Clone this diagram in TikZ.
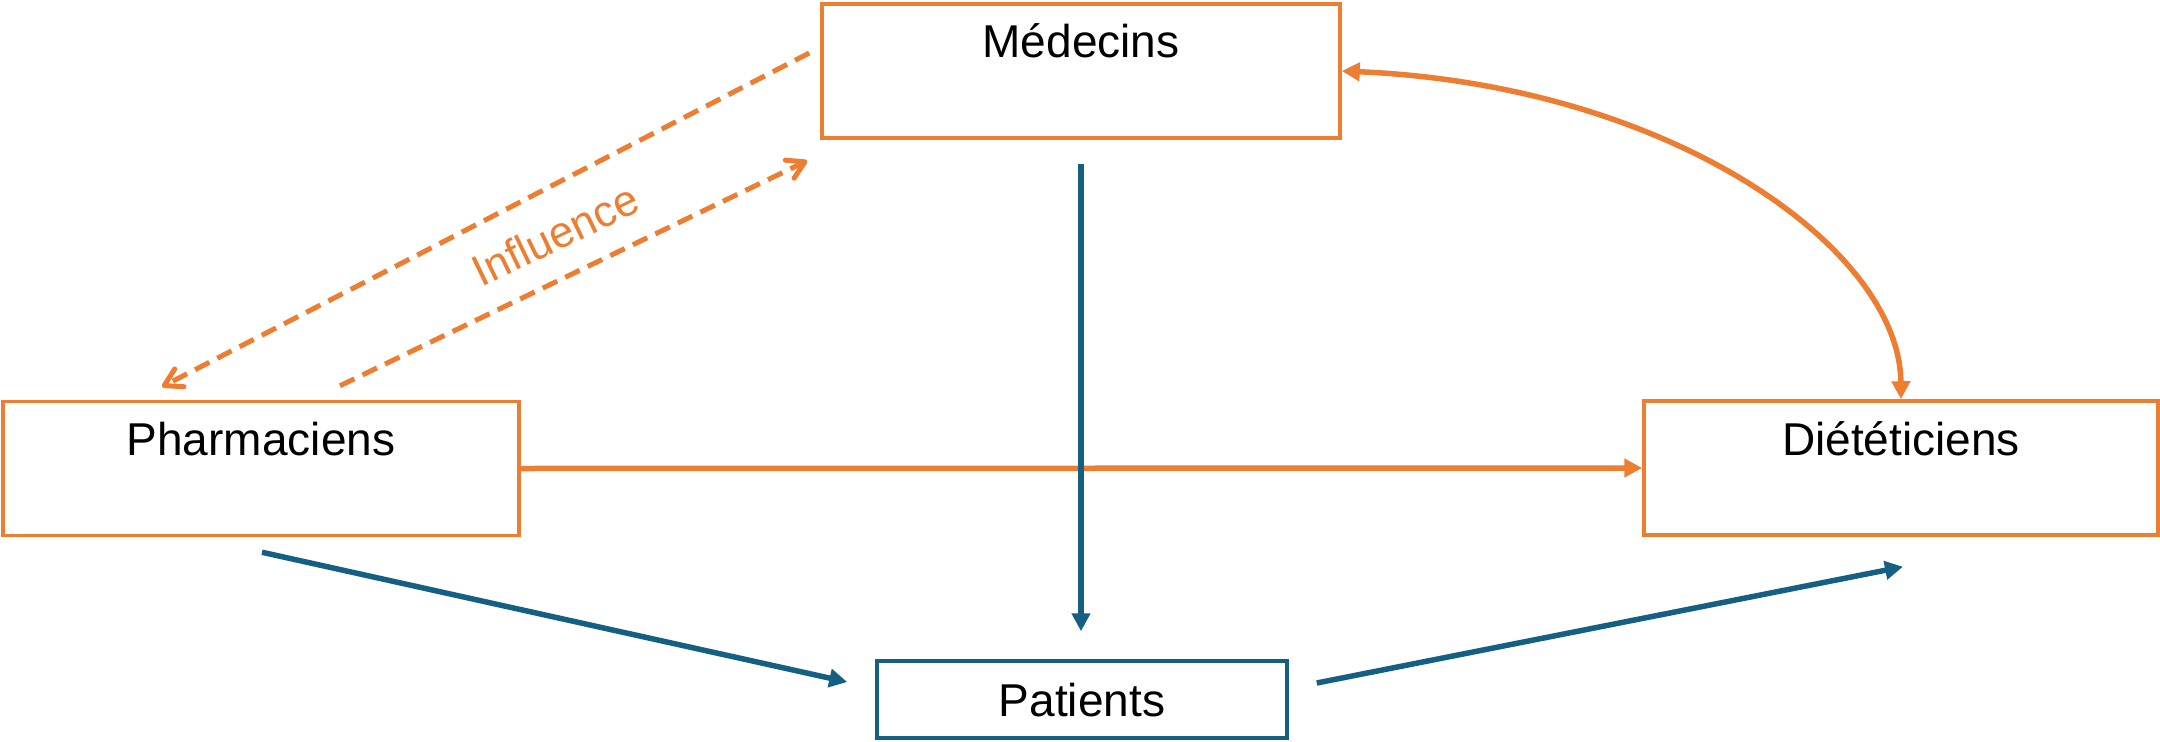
\documentclass[tikz,border=0pt]{standalone}
\usepackage{fontspec}
\setmainfont{Liberation Sans}
\usetikzlibrary{arrows.meta,calc}
\definecolor{accorange}{HTML}{ED7D31}
\definecolor{accblue}{HTML}{156082}
\begin{document}
\begin{tikzpicture}[x=0.1mm,y=-0.1mm,
  boxlabel/.style={font=\fontsize{13.1}{15}\selectfont, text=black},
  topbox/.style={boxlabel, draw=accorange, line width=0.35mm, inner sep=0pt,
    minimum width=#1, text height=5.4mm, text depth=8.0mm},
  lowbox/.style={boxlabel, draw=accblue, line width=0.35mm, inner sep=0pt,
    minimum width=#1, minimum height=7.7mm, text height=3.3mm, text depth=0pt},
  solidtip/.tip={Triangle[length=1.8mm,width=1.8mm]},
  barbtip/.tip={Straight Barb[length=1.7mm,width=2.0mm,round]},
  orangelink/.style={draw=accorange, line width=0.55mm},
  bluelink/.style={draw=accblue, line width=0.55mm, -solidtip},
  influencelink/.style={draw=accorange, line width=0.5mm, dash pattern=on 1.6mm off 0.9mm, -barbtip},
]
\useasboundingbox (0,0) rectangle (2160,741);

% boxes
\node[topbox=51.8mm] (med) at (1081,71)    {Médecins};
\node[topbox=51.6mm] (pha) at (261,468.5)  {Pharmaciens};
\node[topbox=51.4mm] (die) at (1901,468)   {Diététiciens};
\node[lowbox=41.0mm] (pat) at (1082,699.5) {Patients};

% free ends of the connectors
\coordinate (phaout)  at ($(pha.south)+(1,15)$);
\coordinate (patin)   at ($(pat.west)+(-28,-17.5)$);
\coordinate (patout)  at ($(pat.east)+(28,-16.5)$);
\coordinate (diein)   at ($(die.south)+(2,30)$);
\coordinate (medout)  at ($(med.west)+(-11,-18)$);
\coordinate (phain)   at ($(pha.north)+(-99,-13)$);
\coordinate (phaup)   at ($(pha.north)+(79,-14)$);
\coordinate (medin)   at ($(med.south west)+(-13,21)$);

% influence between physicians and pharmacists
\draw[influencelink] (medout) -- (phain);
\draw[influencelink] (phaup) -- (medin)
  node[midway, sloped, above=2.4mm, inner sep=0pt, text=accorange,
       font=\fontsize{12.5}{14}\selectfont] (infl) {Influence};

% orange links
\draw[orangelink, -solidtip] (pha.east) -- (die.west);
\draw[orangelink, solidtip-solidtip] (med.east)
  .. controls +(330,14) and +(-1,-150) .. (die.north);

% blue links towards and from the patients
\draw[bluelink, shorten <=2.4mm, shorten >=2.8mm] (med.south) -- (med.south |- pat.north);
\draw[bluelink] (phaout) -- (patin);
\draw[bluelink] (patout) -- (diein);
\end{tikzpicture}
\end{document}
